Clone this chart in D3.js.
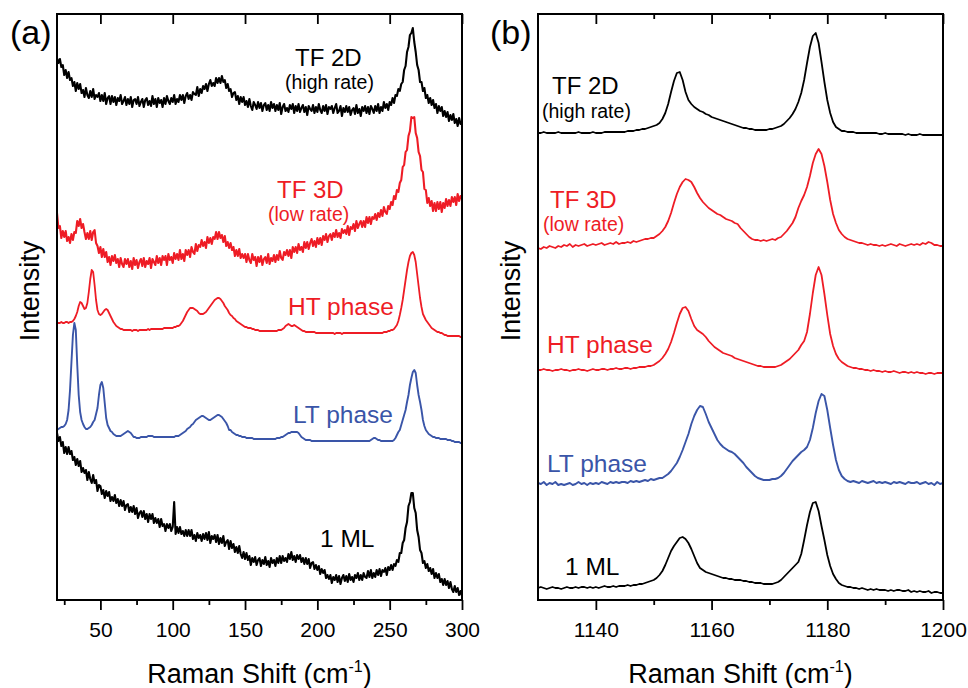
<!DOCTYPE html>
<html>
<head>
<meta charset="utf-8">
<script src="https://cdn.jsdelivr.net/npm/d3@7"></script>
<style>
  html, body { margin: 0; padding: 0; background: #fff; }
  svg { display: block; font-family: "Liberation Sans", Arial, Helvetica, sans-serif; }
</style>
</head>
<body>
<svg id="chart" width="968" height="688"></svg>
<script>
// ---------------------------------------------------------------
// (a) low-frequency Raman spectra, one reading per cm-1, 20..300
//     intensities are stacked (arbitrary units)
// ---------------------------------------------------------------
const shiftStartA = 20, shiftStepA = 1;

const tf2dA = [
  542,537,541,533,535,525,530,522,528,520,
  522,514,518,509,517,511,516,507,510,503,
  512,505,502,509,503,511,501,505,503,507,
  499,505,499,507,496,502,504,496,504,498,
  503,495,502,499,505,496,499,503,495,501,
  496,503,493,500,501,496,503,494,498,501,
  493,500,502,495,499,494,504,496,501,493,
  502,497,500,493,502,496,504,499,496,502,
  498,505,496,501,498,505,500,505,497,504,
  507,501,505,500,508,506,505,513,504,511,
  507,514,511,516,509,516,520,514,517,514,
  522,517,522,517,524,518,520,512,516,509,
  511,503,507,508,500,504,496,503,498,503,
  495,499,493,501,494,490,498,495,491,498,
  492,497,489,495,497,490,495,489,498,492,
  496,489,495,490,497,486,493,496,489,492,
  488,495,491,496,487,494,489,496,488,492,
  495,488,493,485,494,491,489,495,487,493,
  488,496,490,487,494,489,495,486,493,491,
  494,487,492,496,487,489,494,484,492,488,
  494,488,493,485,490,492,486,495,487,491,
  484,493,489,494,487,493,486,494,491,487,
  494,489,496,487,493,489,498,492,496,490,
  498,495,502,497,505,504,511,509,516,518,
  530,534,548,553,565,567,572,558,548,535,
  530,518,518,509,512,502,505,497,502,495,
  500,492,496,487,494,489,493,484,489,483,
  488,479,485,480,486,477,481,474,482,476,
  478
];

const tf3dA = [
  387,372,374,362,369,363,369,359,363,357,
  366,360,368,367,379,374,381,372,376,368,
  361,367,361,369,360,368,370,357,354,347,
  353,343,351,343,348,338,343,335,344,339,
  345,337,341,333,342,336,333,341,336,341,
  333,339,331,342,335,340,332,338,341,334,
  342,333,339,336,342,332,341,338,335,344,
  337,342,335,344,340,344,335,346,340,343,
  337,347,341,346,340,350,341,346,339,350,
  345,350,343,353,348,346,356,349,355,353,
  360,354,358,352,363,357,362,356,363,361,
  368,361,368,362,365,358,364,354,358,352,
  357,350,353,344,350,344,351,342,346,342,
  346,338,346,340,337,346,340,343,334,343,
  338,344,335,341,343,337,346,336,342,339,
  345,338,345,340,349,342,340,348,345,350,
  344,350,342,353,348,353,347,356,350,353,
  348,358,352,358,351,357,361,354,359,353,
  362,356,362,355,364,360,366,358,364,366,
  360,367,363,370,363,367,362,371,367,370,
  366,374,365,373,371,376,369,379,372,376,
  379,373,379,373,383,377,383,376,383,381,
  386,380,387,383,390,384,393,388,386,394,
  391,398,395,404,401,410,408,417,420,433,
  435,448,450,464,469,483,482,483,467,462,
  448,444,430,428,411,410,397,402,394,399,
  389,397,389,398,391,398,388,397,392,401,
  394,400,394,403,398,403,395,406,399,404,
  401
];

const htA = [
  277,277,277,278,277,277,278,278,277,278,
  278,279,281,284,288,294,298,297,294,291,
  292,297,308,321,330,328,315,300,290,286,
  285,286,288,290,291,290,287,284,281,278,
  276,274,273,272,271,271,270,270,270,270,
  270,270,269,270,270,270,269,270,270,270,
  270,270,270,271,270,271,271,271,271,271,
  271,271,271,271,272,272,272,272,272,272,
  272,273,273,274,274,275,277,279,282,285,
  288,290,292,292,292,291,290,289,287,286,
  286,286,287,288,290,292,294,296,298,300,
  301,302,302,301,299,297,294,292,290,287,
  285,284,282,281,279,278,277,276,275,274,
  273,273,272,272,272,271,271,270,270,270,
  269,269,269,269,269,269,269,269,269,269,
  269,269,269,270,270,270,271,272,274,275,
  276,275,274,274,275,274,273,272,271,270,
  269,269,268,268,268,268,268,268,268,267,
  267,267,267,267,267,267,267,267,267,267,
  267,267,266,267,267,267,267,266,267,267,
  267,267,267,267,267,267,267,267,267,267,
  267,267,267,267,267,267,267,267,267,267,
  267,267,267,267,267,267,268,268,268,269,
  269,270,270,271,273,275,279,285,292,300,
  310,320,330,338,344,347,348,345,338,326,
  314,302,293,286,283,280,278,276,274,272,
  271,270,269,268,268,267,267,266,265,265,
  264,264,264,264,264,264,264,264,264,263,
  263
];

const ltA = [
  170,171,172,173,173,174,176,180,190,210,
  238,265,277,270,235,205,188,180,176,173,
  171,171,172,173,175,178,180,186,192,205,
  215,218,212,197,182,175,172,169,168,166,
  165,164,164,164,164,165,166,167,168,169,
  168,167,165,163,163,162,162,162,163,163,
  163,163,163,164,164,164,164,163,163,163,
  163,163,163,163,163,163,163,163,163,163,
  163,163,164,164,164,165,166,167,168,169,
  171,172,173,175,176,178,180,181,182,183,
  184,184,183,182,181,180,180,181,182,183,
  184,185,185,184,183,181,179,177,174,170,
  170,168,167,166,165,165,164,164,163,163,
  163,162,162,162,162,162,161,161,161,161,
  161,161,161,161,161,161,161,161,161,161,
  161,161,162,162,162,163,163,164,165,166,
  167,167,168,168,168,168,168,167,165,163,
  162,161,160,160,160,160,159,159,159,159,
  159,159,159,159,159,159,159,159,159,159,
  159,159,159,159,159,159,159,159,159,159,
  159,159,159,159,159,159,159,159,159,159,
  159,159,159,159,159,159,159,160,161,162,
  162,161,160,160,159,159,159,159,159,159,
  159,159,159,160,162,165,168,170,175,180,
  185,190,198,205,215,222,228,230,227,215,
  205,198,190,180,174,170,168,166,165,164,
  163,163,162,162,162,161,161,161,161,161,
  160,160,160,159,159,158,158,158,158,157,
  157
];

const mlA = [
  167,159,163,154,158,147,153,146,153,146,
  149,140,143,135,141,134,139,128,132,127,
  130,120,128,121,117,125,117,120,109,115,
  114,106,110,102,109,104,108,99,103,99,
  105,97,101,94,100,94,99,90,95,96,
  88,93,88,94,86,92,82,87,89,83,
  89,81,86,78,86,81,86,77,82,77,
  81,73,81,74,76,69,76,72,76,69,
  73,98,66,73,67,73,66,69,64,70,
  64,70,64,70,61,65,59,67,62,65,
  59,66,61,67,60,68,57,64,61,65,
  58,65,56,62,57,64,54,58,60,51,
  59,52,56,48,53,47,54,46,42,48,
  41,47,40,44,35,42,38,43,35,40,
  42,34,40,36,43,35,39,33,42,37,
  40,34,42,37,44,37,44,39,42,38,
  46,41,48,40,44,38,45,41,45,38,
  42,36,42,36,41,32,37,38,31,35,
  30,34,26,31,27,30,22,25,21,25,
  17,23,20,25,18,24,16,22,25,19,
  24,18,26,20,23,18,25,22,27,20,
  25,20,27,23,22,29,23,30,22,27,
  23,30,25,31,24,30,28,32,25,33,
  30,35,30,36,34,40,38,47,47,57,
  60,72,78,94,98,107,107,92,87,70,
  63,50,47,37,39,32,36,29,32,26,
  31,22,27,22,26,18,21,15,21,15,
  19,12,18,11,8,14,8,12,5,9,
  4
];

// ---------------------------------------------------------------
// (b) high-frequency Raman spectra, one reading per 0.5 cm-1, 1130..1200
// ---------------------------------------------------------------
const shiftStartB = 1130, shiftStepB = 0.5;

const tf2dB = [
  467,467,468,467,467,467,467,468,467,467,
  467,467,467,467,468,467,467,467,467,468,
  467,467,467,468,468,468,468,468,468,468,
  468,469,469,469,470,470,471,471,472,473,
  474,475,477,481,487,496,508,519,527,528,
  520,508,500,496,493,491,489,488,486,485,
  483,482,481,480,479,478,477,476,475,474,
  473,472,472,471,471,470,470,470,470,470,
  471,471,472,473,474,476,479,482,486,491,
  498,507,520,537,553,564,567,557,538,518,
  500,487,478,473,471,469,469,468,468,468,
  467,467,467,467,467,467,467,467,466,466,
  467,466,466,466,466,466,466,465,466,465,
  465,465,466,465,465,465,465,465,465,465,
  465
];

const tf3dB = [
  352,351,353,352,354,353,352,354,353,355,
  354,356,353,355,354,355,356,354,355,356,
  355,356,357,355,356,357,356,358,356,357,
  357,358,357,359,358,359,360,361,361,362,
  362,364,366,369,373,379,387,397,406,413,
  418,421,420,418,413,407,402,398,395,392,
  390,388,386,385,383,381,380,379,377,376,
  372,369,366,363,361,360,360,359,360,359,
  360,361,360,362,363,366,369,373,377,383,
  392,399,405,413,424,437,446,451,446,434,
  418,400,386,377,370,366,363,361,360,359,
  358,357,357,356,355,356,355,355,354,355,
  354,355,356,355,354,356,355,354,355,356,
  355,356,355,357,356,358,357,355,355,354,
  354
];

const htB = [
  230,230,231,230,230,229,230,230,231,230,
  230,229,230,230,231,230,230,229,230,231,
  230,230,231,231,230,231,231,232,231,231,
  232,232,231,232,232,233,233,233,234,234,
  235,237,239,242,246,251,258,267,277,286,
  292,293,289,281,274,270,268,266,263,259,
  256,253,251,249,247,246,245,244,242,241,
  240,239,238,237,236,235,234,234,233,233,
  233,233,233,234,235,237,239,241,244,247,
  250,255,259,268,286,307,325,333,325,306,
  285,266,254,246,241,238,236,234,233,232,
  232,231,231,230,230,229,230,229,229,228,
  229,228,228,229,228,227,228,228,227,228,
  227,228,227,227,226,227,227,226,227,227,
  227
];

const ltB = [
  117,116,118,115,117,116,118,115,116,115,
  116,117,115,116,118,116,117,115,117,116,
  117,116,118,117,116,118,117,118,117,118,
  118,117,119,118,119,118,119,120,119,121,
  120,121,122,122,124,126,129,133,137,143,
  150,158,166,176,184,190,194,193,186,178,
  172,166,160,156,153,151,149,148,146,143,
  140,137,133,130,127,124,122,121,120,120,
  120,121,121,122,124,127,131,135,139,142,
  145,148,150,153,160,172,187,199,206,204,
  190,172,155,140,130,124,121,119,118,119,
  118,117,119,118,117,118,119,117,118,117,
  118,117,116,118,117,118,117,116,118,117,
  117,118,116,117,118,116,117,115,118,116,
  117
];

const mlB = [
  12,13,12,11,12,13,12,12,11,12,
  13,12,12,13,12,13,13,12,13,12,
  13,12,13,14,13,13,14,13,14,14,
  14,15,14,15,15,16,16,17,18,19,
  20,22,25,29,35,42,49,54,58,62,
  63,61,57,51,44,37,32,30,28,27,
  26,25,24,23,22,22,21,21,20,20,
  20,19,19,18,18,17,17,17,16,16,
  16,16,17,18,20,23,26,29,32,35,
  38,46,60,75,88,97,98,89,74,60,
  45,34,26,21,17,15,14,13,13,12,
  12,11,12,11,10,11,10,11,10,10,
  10,9,10,9,10,10,9,9,10,8,
  9,8,9,8,8,9,7,8,8,7,
  7
];

// axis ticks
const majorTicksA = [50, 100, 150, 200, 250, 300];
const minorTicksA = [25, 75, 125, 175, 225, 275];
const majorTicksB = [1140, 1160, 1180, 1200];
const minorTicksB = [1150, 1170, 1190];

// ---------------------------------------------------------------
// drawing
// ---------------------------------------------------------------
const BLACK = "#000000", RED = "#ee1c25", BLUE = "#3a55a8";
const FONT = "'Liberation Sans', Arial, Helvetica, sans-serif";

const plotTop = 14, plotBottom = 600;
const yScale = d3.scaleLinear().domain([0, 586]).range([plotBottom, plotTop]);

const panels = [
  {
    tag: "(a)", tagX: 10, left: 57, right: 462, domain: [20, 300],
    start: shiftStartA, step: shiftStepA,
    major: majorTicksA, minor: minorTicksA, topMinor: false,
    series: [
      { values: tf2dA, color: BLACK, width: 2.1 },
      { values: tf3dA, color: RED, width: 2.1 },
      { values: htA, color: RED, width: 1.8 },
      { values: ltA, color: BLUE, width: 1.9 },
      { values: mlA, color: BLACK, width: 2.1 }
    ],
    labels: [
      { text: "TF 2D", x: 295, y: 66, size: 24, color: BLACK },
      { text: "(high rate)", x: 285, y: 89, size: 19.5, color: BLACK },
      { text: "TF 3D", x: 277, y: 198, size: 24, color: RED },
      { text: "(low rate)", x: 268, y: 221, size: 19.5, color: RED },
      { text: "HT phase", x: 288, y: 315, size: 24.5, color: RED },
      { text: "LT phase", x: 293, y: 423, size: 24.5, color: BLUE },
      { text: "1 ML", x: 320, y: 547, size: 24.5, color: BLACK }
    ]
  },
  {
    tag: "(b)", tagX: 490, left: 538, right: 943, domain: [1130, 1200],
    start: shiftStartB, step: shiftStepB,
    major: majorTicksB, minor: minorTicksB, topMinor: true,
    series: [
      { values: tf2dB, color: BLACK, width: 1.8 },
      { values: tf3dB, color: RED, width: 1.8 },
      { values: htB, color: RED, width: 1.8 },
      { values: ltB, color: BLUE, width: 1.9 },
      { values: mlB, color: BLACK, width: 1.8 }
    ],
    labels: [
      { text: "TF 2D", x: 552, y: 94, size: 24, color: BLACK },
      { text: "(high rate)", x: 542, y: 118, size: 19.5, color: BLACK },
      { text: "TF 3D", x: 550, y: 208, size: 24, color: RED },
      { text: "(low rate)", x: 543, y: 231, size: 19.5, color: RED },
      { text: "HT phase", x: 547, y: 353, size: 24.5, color: RED },
      { text: "LT phase", x: 547, y: 472, size: 24.5, color: BLUE },
      { text: "1 ML", x: 565, y: 575, size: 24.5, color: BLACK }
    ]
  }
];

const svg = d3.select("#chart");
const defs = svg.append("defs");

panels.forEach((p, pi) => {
  const x = d3.scaleLinear().domain(p.domain).range([p.left, p.right]);
  const g = svg.append("g");

  const clipId = "clip" + pi;
  defs.append("clipPath").attr("id", clipId)
    .append("rect")
    .attr("x", p.left).attr("y", plotTop)
    .attr("width", p.right - p.left).attr("height", plotBottom - plotTop);

  const line = d3.line()
    .x(d => x(d[0]))
    .y(d => yScale(d[1]));

  const curves = g.append("g").attr("clip-path", `url(#${clipId})`);
  p.series.forEach(s => {
    const pts = s.values.map((v, i) => [p.start + i * p.step, v]);
    curves.append("path")
      .datum(pts)
      .attr("d", line)
      .attr("fill", "none")
      .attr("stroke", s.color)
      .attr("stroke-width", s.width)
      .attr("stroke-linejoin", "round");
  });

  // bottom axis: labelled major ticks pointing out, minor ticks
  const bottomMajor = g.append("g")
    .attr("transform", `translate(0,${plotBottom})`)
    .call(d3.axisBottom(x).tickValues(p.major).tickSize(10).tickPadding(12).tickFormat(d3.format("d")));
  g.append("g")
    .attr("transform", `translate(0,${plotBottom})`)
    .call(d3.axisBottom(x).tickValues(p.minor).tickSize(5).tickFormat(""));

  // top axis: ticks pointing into the plot, no labels
  g.append("g")
    .attr("transform", `translate(0,${plotTop})`)
    .call(d3.axisBottom(x).tickValues(p.major).tickSize(10).tickFormat(""));
  if (p.topMinor) {
    g.append("g")
      .attr("transform", `translate(0,${plotTop})`)
      .call(d3.axisBottom(x).tickValues(p.minor).tickSize(5).tickFormat(""));
  }

  g.selectAll(".domain").remove();
  g.selectAll(".tick line").attr("stroke", "#000").attr("stroke-width", 1.8);
  bottomMajor.selectAll(".tick text")
    .attr("font-size", 21)
    .attr("font-family", FONT)
    .attr("fill", "#000");

  // frame
  g.append("rect")
    .attr("x", p.left).attr("y", plotTop)
    .attr("width", p.right - p.left).attr("height", plotBottom - plotTop)
    .attr("fill", "none").attr("stroke", "#000").attr("stroke-width", 2);

  // curve labels
  p.labels.forEach(l => {
    g.append("text")
      .attr("x", l.x).attr("y", l.y)
      .attr("font-size", l.size)
      .attr("fill", l.color)
      .text(l.text);
  });

  // panel tag
  g.append("text")
    .attr("x", p.tagX).attr("y", 44)
    .attr("font-size", 34)
    .text(p.tag);

  // axis titles
  const xt = g.append("text")
    .attr("x", (p.left + p.right) / 2).attr("y", 683)
    .attr("text-anchor", "middle")
    .attr("font-size", 27);
  xt.append("tspan").text("Raman Shift (cm");
  xt.append("tspan").attr("font-size", 16).attr("dy", -11).text("-1");
  xt.append("tspan").attr("dy", 11).text(")");

  g.append("text")
    .attr("transform", `translate(${p.left - 18},291) rotate(-90)`)
    .attr("text-anchor", "middle")
    .attr("font-size", 27)
    .text("Intensity");
});
</script>
</body>
</html>
